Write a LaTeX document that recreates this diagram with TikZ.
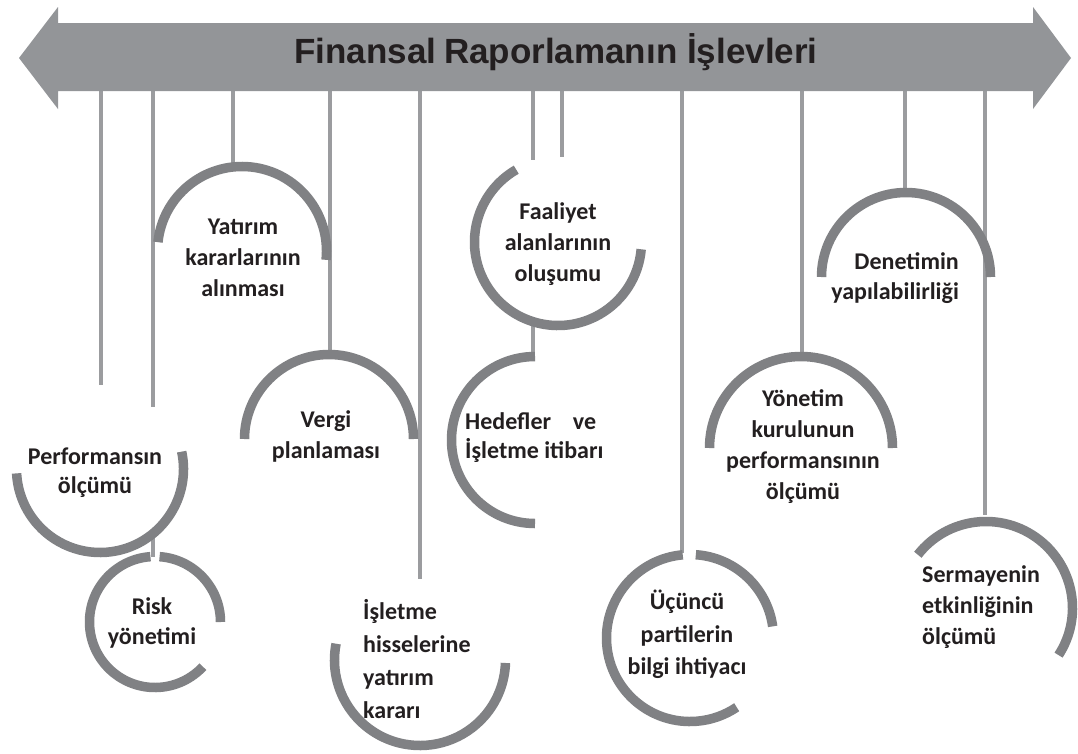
\documentclass[tikz,border=0pt]{standalone}
\usepackage{fontspec}
\newfontfamily\carl{Carlito}
\newfontfamily\libs{Liberation Sans}
\definecolor{arrowgray}{HTML}{939598}
\definecolor{linegray}{HTML}{9B9C9F}
\definecolor{arcgray}{HTML}{808184}
\definecolor{txt}{HTML}{231F20}
\tikzset{
  vline/.style={draw=linegray, line width=4pt},
  arcline/.style={draw=arcgray, line width=9.5pt},
  lbl/.style={font=\carl\bfseries\fontsize{24}{31}\selectfont, text=txt, inner sep=0pt, align=center},
}
\begin{document}
\begin{tikzpicture}[x=1pt,y=-1pt]
\useasboundingbox (0,0) rectangle (1078,753);
\fill[white] (0,0) rectangle (1078,753);
% vertical connectors (top ends under the arrow)
\foreach \n/\x/\ya/\yb in {a/101/85/385, b/153/85/407, c/233/85/166, d/330/85/352, e/420/85/579, f/533/85/160, g/562/85/157, h/682/85/553, i/802/85/354, j/905/85/190, k/985/85/515, l/153/535/557, m/533/326/356}{
  \coordinate (top\n) at (\x,\ya);
  \coordinate (end\n) at (\x,\yb);
  \draw[vline] (top\n) -- (end\n);
}
% arrow
\fill[arrowgray] (19,58) -- (58,7) -- (58,23) -- (1033,23) -- (1033,7) -- (1071,58) -- (1033,109) -- (1033,91) -- (58,91) -- (58,109) -- cycle;
\node[anchor=base, inner sep=0pt, text=txt, font=\libs\bfseries\fontsize{35}{40}\selectfont] (title) at (556,63) {Finansal\hspace{-2pt} Raporlamanın İşlevleri};
% circle centres
\coordinate (cPerf) at (100,469);
\coordinate (cRisk) at (155,622);
\coordinate (cYat) at (242,251);
\coordinate (cVer) at (329,439);
\coordinate (cIsl) at (420,660);
\coordinate (cFaa) at (558,242);
\coordinate (cHed) at (535,440);
\coordinate (cUcu) at (690,638);
\coordinate (cDen) at (906,277);
\coordinate (cYon) at (801,448);
\coordinate (cSer) at (986,608);
% arcs
\draw[arcline] (cPerf) ++(-12:83.5) arc[start angle=-12, end angle=177, radius=83.5];
\draw[arcline] (cRisk) ++(0:65.5) arc[start angle=0, end angle=-86, radius=65.5];
\draw[arcline] (cRisk) ++(-94:65.5) arc[start angle=-94, end angle=-317, radius=65.5];
\draw[arcline] (cYat) ++(6:84.5) arc[start angle=6, end angle=-174, radius=84.5];
\draw[arcline] (cVer) ++(0:84.5) arc[start angle=0, end angle=-180, radius=84.5];
\draw[arcline] (cIsl) ++(-169:85.5) arc[start angle=-169, end angle=-358, radius=85.5];
\draw[arcline] (cFaa) ++(-120:83.5) arc[start angle=-120, end angle=-355, radius=83.5];
\draw[arcline] (cHed) ++(-90:83.5) arc[start angle=-90, end angle=-270, radius=83.5];
\draw[arcline] (cUcu) ++(-8:83.5) arc[start angle=-8, end angle=-86, radius=83.5];
\draw[arcline] (cUcu) ++(-95:83.5) arc[start angle=-95, end angle=-304, radius=83.5];
\draw[arcline] (cDen) ++(0:84.5) arc[start angle=0, end angle=-180, radius=84.5];
\draw[arcline] (cYon) ++(0:91.5) arc[start angle=0, end angle=-180, radius=91.5];
\draw[arcline] (cSer) ++(-142:86.5) arc[start angle=-142, end angle=33, radius=86.5];
% labels
\node[lbl, font=\carl\bfseries\fontsize{24}{29}\selectfont] (tPerf) at (95,472.5) {Performansın\\ölçümü};
\node[lbl, font=\carl\bfseries\fontsize{24}{30}\selectfont] (tRisk) at (152,623) {Risk\\yönetimi};
\node[lbl] (tYat) at (243,257.5) {Yatırım\\kararlarının\\alınması};
\node[lbl] (tVer) at (326,436) {Vergi\\planlaması};
\node[lbl, align=left, anchor=west, font=\carl\bfseries\fontsize{24}{33}\selectfont] (tIsl) at (363,659.5) {İşletme\\hisselerine\\yatırım\\kararı};
\node[lbl] (tFaa) at (558,244) {Faaliyet\\alanlarının\\oluşumu};
\node[lbl, align=left, anchor=west, font=\carl\bfseries\fontsize{24}{29}\selectfont] (tHed) at (465,437.5) {\makebox[131pt][l]{Hedefler\hfill ve}\\İşletme itibarı};
\node[lbl, font=\carl\bfseries\fontsize{24}{32.5}\selectfont] (tUcu) at (687,634.5) {Üçüncü\\partilerin\\bilgi ihtiyacı};
\node[lbl, align=right, anchor=east, font=\carl\bfseries\fontsize{24}{30}\selectfont] (tDen) at (959,278) {Denetimin\\yapılabilirliği};
\node[lbl] (tYon) at (803,447) {Yönetim\\kurulunun\\performansının\\ölçümü};
\node[lbl, align=left, anchor=west] (tSer) at (922,607.5) {Sermayenin\\etkinliğinin\\ölçümü};
\end{tikzpicture}
\end{document}
